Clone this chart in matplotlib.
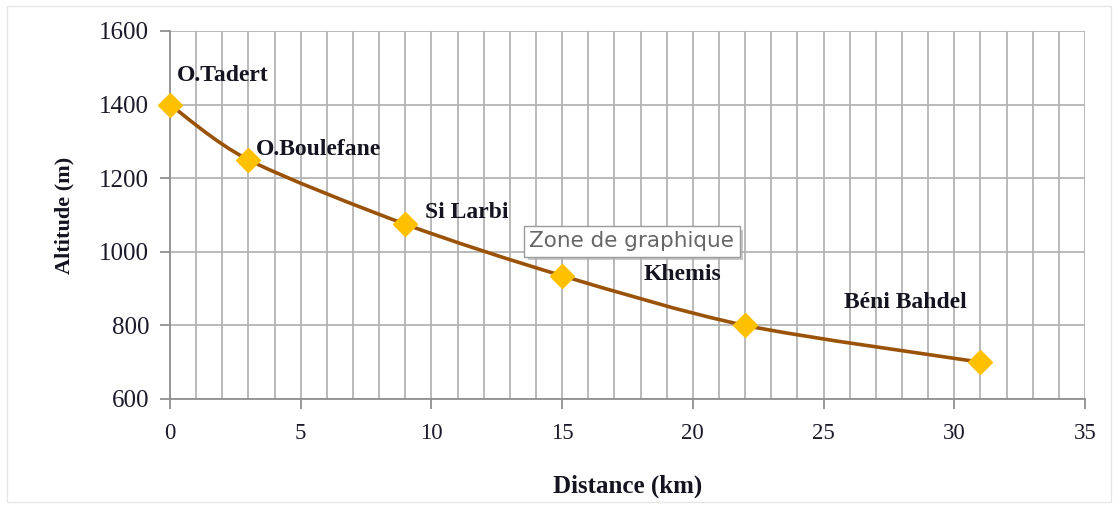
import matplotlib
matplotlib.use("Agg")
import matplotlib.pyplot as plt
from matplotlib.path import Path
from matplotlib.patches import PathPatch, Rectangle
import matplotlib.patheffects as pe
import numpy as np

# ---- data ----
distance_km = [0, 3, 9, 15, 22, 31]
altitude_m = [1400, 1250, 1075, 935, 800, 700]
label_names = ["O.Tadert", "O.Boulefane", "Si Larbi", "", "Khemis", "Béni Bahdel"]
x_ticks = [0, 5, 10, 15, 20, 25, 30, 35]
y_ticks = [600, 800, 1000, 1200, 1400, 1600]

# label placement (data coords of the label's left edge / vertical centre)
label_pos = [(0.25, 1480), (3.3, 1277), (9.75, 1108), None, (18.1, 938), (25.8, 862)]

serif = "Liberation Serif"
grid_col = "#b4b4b4"
line_col = "#9a5208"
marker_col = "#FFC000"
text_col = "#141420"

fig = plt.figure(figsize=(11.18, 5.08), dpi=100)
ax = fig.add_axes([0.152, 0.2146, 0.8185, 0.7244])

ax.set_xlim(0, 35)
ax.set_ylim(600, 1600)

# grid: every km vertically, every 200 m horizontally
ax.set_xticks(np.arange(0, 36, 1), minor=True)
ax.set_xticks(x_ticks)
ax.set_yticks(y_ticks)
ax.grid(True, which="both", axis="x", color=grid_col, lw=1.3)
ax.grid(True, which="major", axis="y", color=grid_col, lw=1.3)
ax.set_axisbelow(True)
ax.tick_params(axis="x", which="minor", length=0)
ax.tick_params(axis="both", which="major", direction="out", length=7, width=1.3,
               color="#909090", pad=10)
ax.tick_params(axis="x", labelsize=16.5)
ax.tick_params(axis="y", labelsize=18, pad=8)
for lab in ax.get_xticklabels() + ax.get_yticklabels():
    lab.set_fontfamily(serif)
    lab.set_color("#1a1a2a")

for s in ["top", "right"]:
    ax.spines[s].set_visible(False)
for s in ["left", "bottom"]:
    ax.spines[s].set_color("#909090")
    ax.spines[s].set_linewidth(1.3)

# smooth line (Catmull-Rom style bezier through data points)
pts = np.column_stack([distance_km, altitude_m]).astype(float)
verts = [tuple(pts[0])]
codes = [Path.MOVETO]
n = len(pts)
for i in range(n - 1):
    p0 = pts[i - 1] if i > 0 else pts[i]
    p1 = pts[i]
    p2 = pts[i + 1]
    p3 = pts[i + 2] if i + 2 < n else pts[i + 1]
    c1 = p1 + (p2 - p0) / 7.0
    c2 = p2 - (p3 - p1) / 7.0
    verts += [tuple(c1), tuple(c2), tuple(p2)]
    codes += [Path.CURVE4] * 3
ax.add_patch(PathPatch(Path(verts, codes), facecolor="none", edgecolor=line_col,
                       lw=2.6, zorder=3, capstyle="round"))

ax.plot(distance_km, altitude_m, linestyle="none", marker="D", ms=12,
        color=marker_col, markeredgecolor=marker_col, zorder=4, clip_on=False)

for name, pos in zip(label_names, label_pos):
    if pos is None or not name:
        continue
    ax.text(pos[0], pos[1], name, fontfamily=serif, fontweight="bold",
            fontsize=17, color=text_col, ha="left", va="center", zorder=5)

ax.set_xlabel("Distance (km)", fontfamily=serif, fontweight="bold", fontsize=18,
              color=text_col, labelpad=22)
ax.set_ylabel("Altitude (m)", fontfamily=serif, fontweight="bold", fontsize=16,
              color=text_col, labelpad=18)

# tooltip-like box with a soft shadow
tip = ax.text(13.75, 1028, "Zone de graphique", fontfamily="DejaVu Sans", fontsize=15.5,
              color="#666666", ha="left", va="center", zorder=7,
              bbox=dict(boxstyle="square,pad=0.25", facecolor="white",
                        edgecolor="#9a9a9a", lw=1.0))
tip.get_bbox_patch().set_path_effects([
    pe.SimplePatchShadow(offset=(2.5, -2.5), shadow_rgbFace="#b0b0b0", alpha=0.7),
    pe.Normal()])

# faint chart border
fig.patches.append(Rectangle((0.006, 0.012), 0.988, 0.976, transform=fig.transFigure,
                             fill=False, edgecolor="#e6e6e6", lw=1.0))

fig.savefig("out.png", dpi=100)
